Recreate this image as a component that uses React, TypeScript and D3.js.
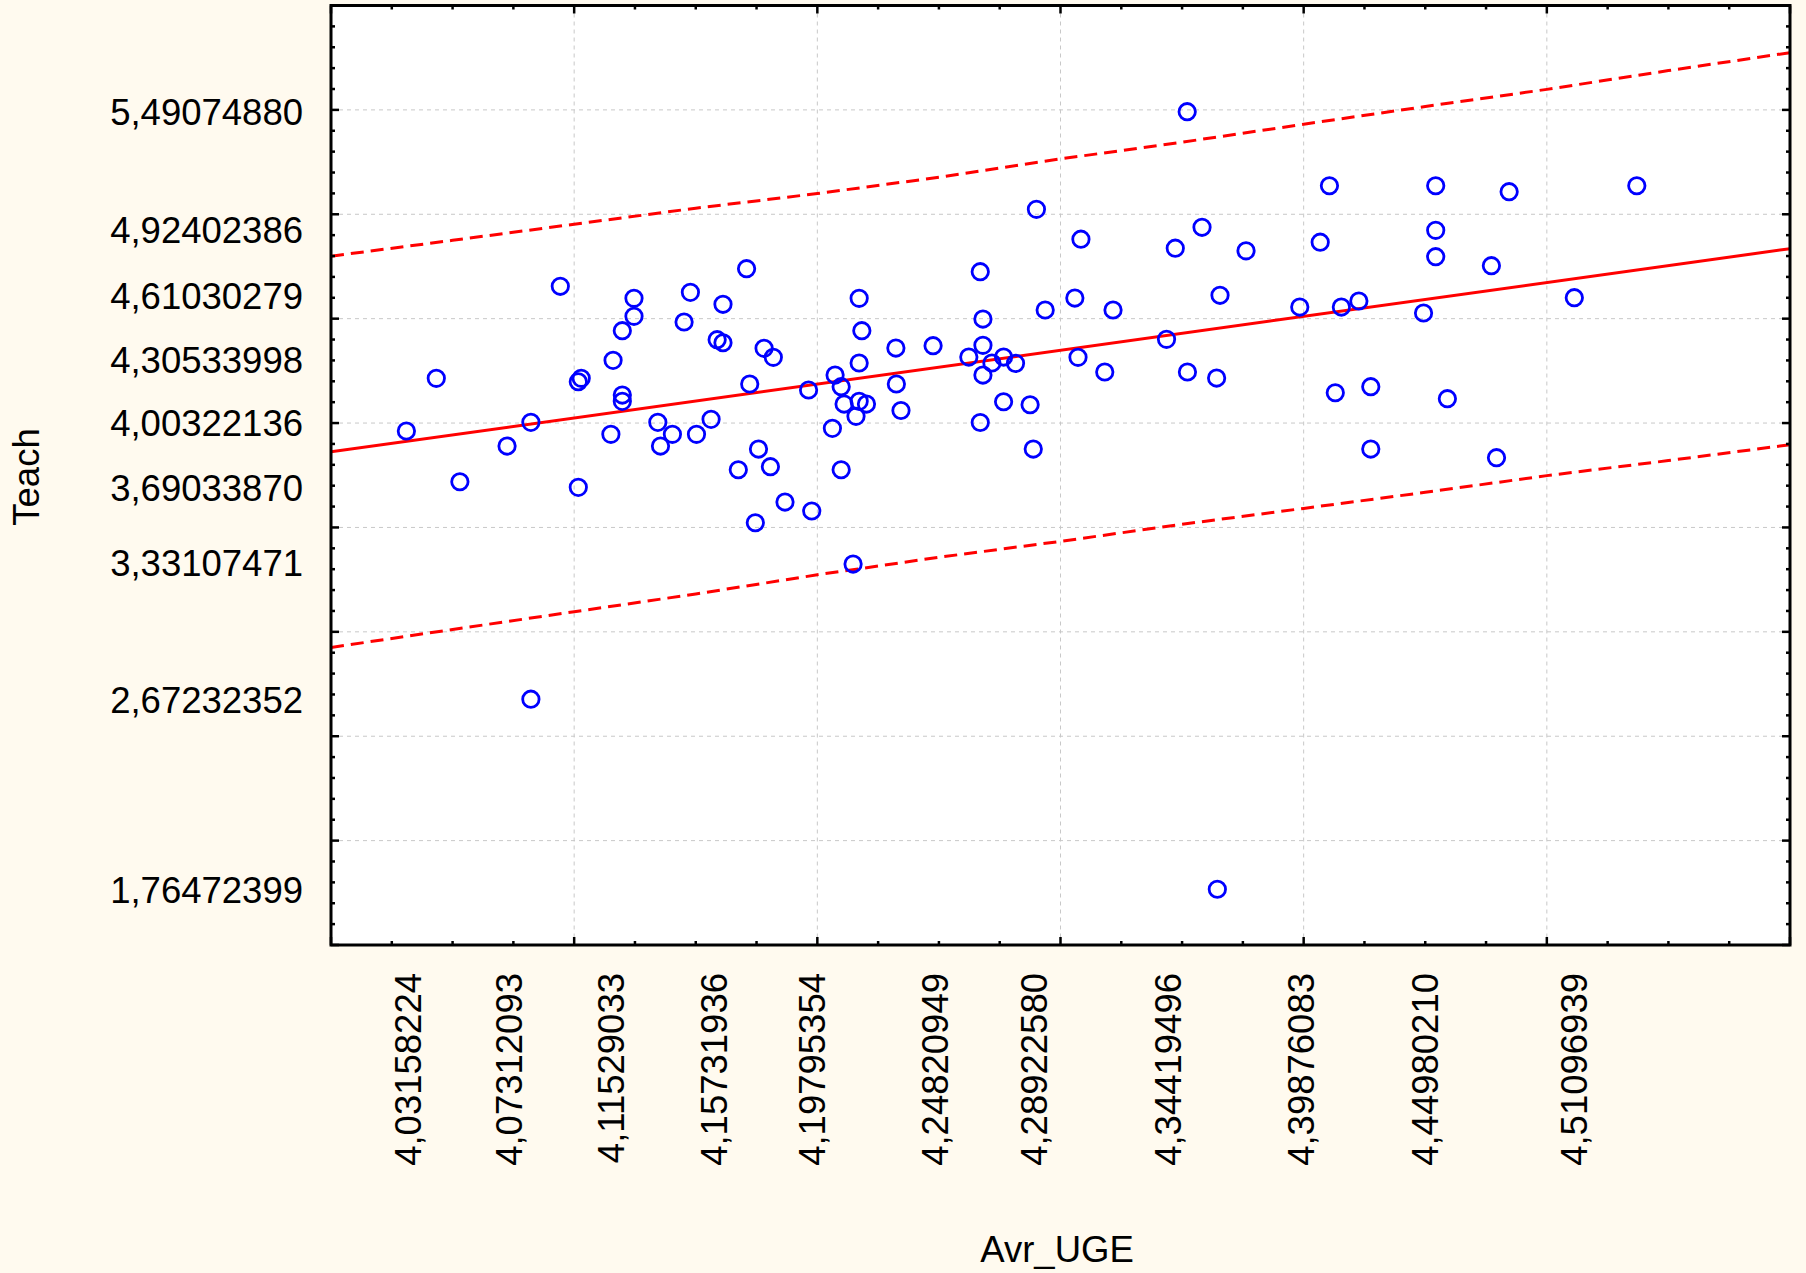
import React, { useEffect, useRef } from 'react';
import * as d3 from 'd3';

// scatter data
const avrUGE = [
  4.0310, 4.0433, 4.0530, 4.0724, 4.0822, 4.0822, 4.0943, 4.1017, 4.1029, 4.1017,
  4.1151, 4.1160, 4.1198, 4.1198, 4.1198, 4.1246, 4.1246, 4.1344, 4.1355, 4.1404,
  4.1452, 4.1478, 4.1503, 4.1563, 4.1588, 4.1612, 4.1612, 4.1675, 4.1709, 4.1722,
  4.1745, 4.1758, 4.1781, 4.1807, 4.1819, 4.1867, 4.1964, 4.1977, 4.2062, 4.2073,
  4.2098, 4.2098, 4.2110, 4.2147, 4.2159, 4.2172, 4.2172, 4.2172, 4.2183, 4.2202,
  4.2323, 4.2325, 4.2344, 4.2476, 4.2623, 4.2670, 4.2670, 4.2681, 4.2681, 4.2681,
  4.2718, 4.2766, 4.2766, 4.2815, 4.2875, 4.2888, 4.2901, 4.2937, 4.3059, 4.3072,
  4.3084, 4.3182, 4.3216, 4.3436, 4.3472, 4.3521, 4.3522, 4.3582, 4.3642, 4.3645,
  4.3656, 4.3763, 4.3984, 4.4068, 4.4106, 4.4130, 4.4155, 4.4227, 4.4276, 4.4276,
  4.4493, 4.4543, 4.4543, 4.4543, 4.4591, 4.4772, 4.4793, 4.4845, 4.5113, 4.5370
];
const teach = [
  3.9526, 4.2050, 3.7097, 3.8807, 3.9942, 2.6680, 4.6457, 4.1887, 4.2050, 3.6829,
  3.9368, 4.2912, 4.4330, 4.1250, 4.0948, 4.5882, 4.5020, 3.9942, 3.8807, 3.9368,
  4.4747, 4.6169, 3.9368, 4.0086, 4.3899, 4.3755, 4.5595, 3.7672, 4.7300, 4.1777,
  3.5133, 3.8663, 4.3487, 3.7816, 4.3056, 3.6125, 4.1490, 3.5694, 3.9655, 4.2208,
  4.1648, 3.7672, 4.0819, 3.3155, 4.0230, 4.5882, 4.2783, 4.0948, 4.4330, 4.0819,
  4.3501, 4.1777, 4.0508, 4.3612, 4.3070, 3.9933, 4.7156, 4.4890, 4.3631, 4.2208,
  4.2783, 4.3070, 4.0929, 4.2767, 4.0785, 3.8663, 5.0145, 4.5322, 4.5896, 4.3056,
  4.8713, 4.2352, 4.5322, 4.3918, 4.8282, 5.4820, 4.2352, 4.9283, 4.2064, 1.7578,
  4.6026, 4.8157, 4.5465, 4.8569, 5.1275, 4.1360, 4.5465, 4.5753, 4.1648, 3.8663,
  4.5178, 5.1275, 4.9139, 4.7875, 4.1073, 4.7444, 3.8247, 5.0988, 4.5911, 5.1275
];

const xTickLabels = ['4,03158224', '4,07312093', '4,11529033', '4,15731936', '4,19795354', '4,24820949',
  '4,28922580', '4,34419496', '4,39876083', '4,44980210', '4,51096939'];
const yTickLabels = ['5,49074880', '4,92402386', '4,61030279', '4,30533998', '4,00322136',
  '3,69033870', '3,33107471', '2,67232352', '1,76472399'];

// fitted line + prediction band, read at the grid
const fitX = [4.0, 4.6];
const fitY = [3.853, 4.826];
const bandX = [4.0, 4.05, 4.1, 4.15, 4.2, 4.25, 4.3, 4.35, 4.4, 4.45, 4.5, 4.55, 4.6];
const bandUpper = [4.790, 4.866, 4.943, 5.020, 5.090, 5.168, 5.256, 5.336, 5.422, 5.507, 5.589, 5.679, 5.765];
const bandLower = [2.916, 3.002, 3.087, 3.172, 3.264, 3.348, 3.424, 3.506, 3.582, 3.659, 3.739, 3.811, 3.887];

const W = 1806, H = 1273;
const left = 331, right = 1790, top = 5.5, bottom = 945;
const yMin = 1.4907488;
const font = '"Liberation Sans", Arial, sans-serif';
const fs = 36.5;

const App = () => {
  const ref = useRef<SVGSVGElement>(null);

  useEffect(() => {
    const svg = d3.select(ref.current);
    svg.selectAll('*').remove();

    const x = d3.scaleLinear().domain([4.0, 4.6]).range([left, right]);
    const y = d3.scaleLinear().domain([yMin, yMin + 4.5]).range([bottom, top]);

    svg.append('rect').attr('width', W).attr('height', H).attr('fill', '#fffaef');
    svg.append('rect')
      .attr('x', left).attr('y', top)
      .attr('width', right - left).attr('height', bottom - top)
      .attr('fill', '#ffffff');

    svg.append('clipPath').attr('id', 'plotClip')
      .append('rect')
      .attr('x', left).attr('y', top)
      .attr('width', right - left).attr('height', bottom - top);

    // grid
    const grid = svg.append('g')
      .attr('stroke', '#c8c8c8').attr('stroke-width', 1).attr('stroke-dasharray', '4,4');
    d3.range(1, 6).map(i => 4 + i * 0.1).forEach(v => {
      grid.append('line').attr('x1', x(v)).attr('x2', x(v)).attr('y1', top).attr('y2', bottom);
    });
    d3.range(1, 9).map(i => yMin + i * 0.5).forEach(v => {
      grid.append('line').attr('x1', left).attr('x2', right).attr('y1', y(v)).attr('y2', y(v));
    });

    const plot = svg.append('g').attr('clip-path', 'url(#plotClip)');

    const line = d3.line<[number, number]>().x(d => x(d[0])).y(d => y(d[1]));
    [bandUpper, bandLower].forEach(band => {
      plot.append('path')
        .attr('d', line(bandX.map((v, i) => [v, band[i]] as [number, number])))
        .attr('fill', 'none').attr('stroke', '#ff0000')
        .attr('stroke-width', 3).attr('stroke-dasharray', '13,7');
    });
    plot.append('path')
      .attr('d', line(fitX.map((v, i) => [v, fitY[i]] as [number, number])))
      .attr('fill', 'none').attr('stroke', '#ff0000').attr('stroke-width', 3);

    plot.selectAll('circle.pt').data(avrUGE)
      .join('circle')
      .attr('class', 'pt')
      .attr('cx', d => x(d))
      .attr('cy', (d, i) => y(teach[i]))
      .attr('r', 8.2)
      .attr('fill', 'none')
      .attr('stroke', '#0000ff')
      .attr('stroke-width', 2.8);

    // frame + inward ticks on all four sides
    const axes = svg.append('g').attr('stroke', '#000').attr('stroke-width', 2.5);
    d3.range(0, 25).forEach(i => {
      const v = 4 + i * 0.025;
      const len = i % 4 === 0 ? 8 : 4;
      axes.append('line').attr('x1', x(v)).attr('x2', x(v)).attr('y1', bottom).attr('y2', bottom - len);
      axes.append('line').attr('x1', x(v)).attr('x2', x(v)).attr('y1', top).attr('y2', top + len);
    });
    d3.range(0, 46).forEach(i => {
      const v = yMin + i * 0.1;
      const len = i % 5 === 0 ? 8 : 4;
      axes.append('line').attr('x1', left).attr('x2', left + len).attr('y1', y(v)).attr('y2', y(v));
      axes.append('line').attr('x1', right).attr('x2', right - len).attr('y1', y(v)).attr('y2', y(v));
    });
    axes.append('rect')
      .attr('x', left).attr('y', top)
      .attr('width', right - left).attr('height', bottom - top)
      .attr('fill', 'none').attr('stroke-width', 3);

    // tick labels sit at their own values
    svg.append('g').selectAll('text').data(yTickLabels)
      .join('text')
      .attr('x', 303)
      .attr('y', d => y(+d.replace(',', '.')) + 2)
      .attr('dy', '0.36em')
      .attr('text-anchor', 'end')
      .attr('font-family', font).attr('font-size', fs).attr('fill', '#000')
      .text(d => d);

    svg.append('g').selectAll('text').data(xTickLabels)
      .join('text')
      .attr('transform', d => `translate(${x(+d.replace(',', '.'))},973) rotate(-90)`)
      .attr('dy', '0.36em')
      .attr('text-anchor', 'end')
      .attr('font-family', font).attr('font-size', fs).attr('fill', '#000')
      .text(d => d);

    svg.append('text')
      .attr('transform', 'translate(39,477) rotate(-90)')
      .attr('text-anchor', 'middle')
      .attr('font-family', font).attr('font-size', fs)
      .text('Teach');
    svg.append('text')
      .attr('x', 1057).attr('y', 1262)
      .attr('text-anchor', 'middle')
      .attr('font-family', font).attr('font-size', fs)
      .text('Avr_UGE');
  }, []);

  return (
    <div style={{ position: 'absolute', left: 0, top: 0 }}>
      <svg ref={ref} width={W} height={H} style={{ display: 'block' }} />
    </div>
  );
};

export default App;
